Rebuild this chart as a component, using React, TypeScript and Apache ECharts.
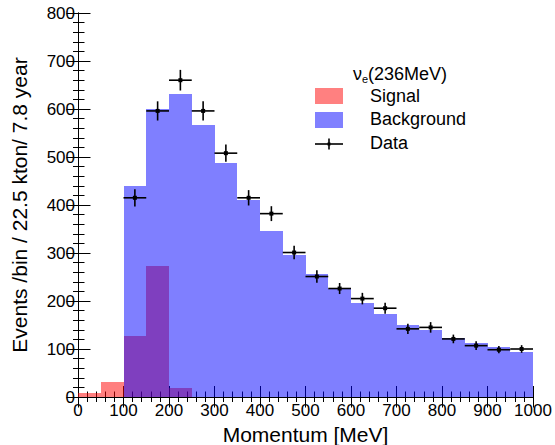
import React, { useEffect, useRef } from "react";
import * as echarts from "echarts";

// Histogram bin lower edges (MeV), bin width 50
const binLow = [0, 50, 100, 150, 200, 250, 300, 350, 400, 450, 500, 550, 600, 650, 700, 750, 800, 850, 900, 950];
const binWidth = 50;
const signal = [8, 31, 127, 273, 18, 0, 0, 0, 0, 0, 0, 0, 0, 0, 0, 0, 0, 0, 0, 0];
const background = [0, 0, 440, 601, 631, 567, 487, 410, 346, 296, 256, 226, 196, 173, 151, 140, 122, 112, 103.5, 94];

// Data points
const dataX = [125, 175, 225, 275, 325, 375, 425, 475, 525, 575, 625, 675, 725, 775, 825, 875, 925, 975];
const dataY = [415, 596, 660, 596, 508, 415, 382, 301, 251, 226, 205, 185, 142, 145, 121, 107, 98.5, 100];
const dataErr = [18, 20, 21.5, 20, 18, 16, 15.5, 14, 13, 11.5, 12, 11.5, 10.5, 11, 9, 9, 7.5, 8];

const xTicks = [0, 100, 200, 300, 400, 500, 600, 700, 800, 900, 1000];
const yTicks = [0, 100, 200, 300, 400, 500, 600, 700, 800];

const FONT = "'Liberation Sans', Arial, Helvetica, sans-serif";

export default function App() {
  const ref = useRef<HTMLDivElement>(null);
  useEffect(() => {
    if (!ref.current) return;
    const chart = echarts.init(ref.current, undefined, { renderer: "svg" });

    const histData = (vals: number[]) =>
      binLow.map((x, i) => [x, x + binWidth, vals[i]]).filter((d) => d[2] > 0);

    const histSeries = (name: string, vals: number[], color: string, z: number) => ({
      type: "custom",
      name,
      z,
      data: histData(vals),
      encode: { x: [0, 1], y: 2 },
      renderItem: (params: any, api: any) => {
        const x0 = api.value(0);
        const x1 = api.value(1);
        const y = api.value(2);
        const p0 = api.coord([x0, y]);
        const p1 = api.coord([x1, 0]);
        const L = Math.round(p0[0]);
        const R = Math.round(p1[0]);
        const T = Math.round(p0[1]);
        const B = Math.round(p1[1]);
        return {
          type: "rect",
          shape: { x: L, y: T, width: R - L, height: B - T },
          style: { fill: color },
        };
      },
    });

    const pointData = dataX.map((x, i) => [x, dataY[i], dataErr[i], binWidth / 2]);

    const xMin = xTicks[0];
    const xMax = xTicks[xTicks.length - 1];
    const xInt = xTicks[1] - xTicks[0];
    const yMin = yTicks[0];
    const yMax = yTicks[yTicks.length - 1];
    const yInt = yTicks[1] - yTicks[0];

    const axisCommon = {
      axisLine: { show: true, lineStyle: { color: "#000", width: 1 } },
      splitLine: { show: false },
    };

    chart.setOption({
      animation: false,
      backgroundColor: "#fff",
      grid: { left: 78, right: 22, top: 13, bottom: 48, containLabel: false, outerBoundsMode: "none" },
      xAxis: [
        {
          ...axisCommon,
          type: "value",
          position: "bottom",
          min: xMin,
          max: xMax,
          interval: xInt,
          axisTick: { show: true, inside: true, length: 11, lineStyle: { color: "#000" } },
          minorTick: { show: true, splitNumber: 5, length: 5.5, lineStyle: { color: "#000" } },
          axisLabel: { color: "#000", fontSize: 17, fontFamily: FONT, margin: 5, formatter: (v: number) => String(v) },
          name: "Momentum [MeV]",
          nameLocation: "middle",
          nameGap: 23,
          nameTextStyle: { color: "#000", fontSize: 21, fontFamily: FONT },
        },
        {
          ...axisCommon,
          type: "value",
          position: "top",
          min: xMin,
          max: xMax,
          interval: xInt,
          axisTick: { show: true, inside: true, length: 10.5, lineStyle: { color: "#000" } },
          minorTick: { show: true, splitNumber: 5, length: 5, lineStyle: { color: "#000" } },
          axisLabel: { show: false },
        },
      ],
      yAxis: [
        {
          ...axisCommon,
          type: "value",
          position: "left",
          min: yMin,
          max: yMax,
          interval: yInt,
          axisTick: { show: true, inside: true, length: 12.5, lineStyle: { color: "#000" } },
          minorTick: { show: true, splitNumber: 5, length: 6.5, lineStyle: { color: "#000" } },
          axisLabel: { color: "#000", fontSize: 17, fontFamily: FONT, margin: 3, formatter: (v: number) => String(v) },
          name: "Events /bin / 22.5 kton/ 7.8 year",
          nameLocation: "middle",
          nameGap: 48,
          nameTextStyle: { color: "#000", fontSize: 21, fontFamily: FONT },
        },
        {
          ...axisCommon,
          type: "value",
          position: "right",
          min: yMin,
          max: yMax,
          interval: yInt,
          axisTick: { show: true, inside: true, length: 11.5, lineStyle: { color: "#000" } },
          minorTick: { show: true, splitNumber: 5, length: 5, lineStyle: { color: "#000" } },
          axisLabel: { show: false },
        },
      ],
      series: [
        histSeries("Signal", signal, "rgba(255,0,0,0.5)", 2),
        histSeries("Background", background, "rgba(0,0,255,0.5)", 3),
        {
          type: "custom",
          name: "Data",
          z: 4,
          data: pointData,
          encode: { x: 0, y: 1 },
          renderItem: (params: any, api: any) => {
            const x = api.value(0);
            const y = api.value(1);
            const e = api.value(2);
            const hw = api.value(3);
            const c = api.coord([x, y]);
            const l = api.coord([x - hw, y]);
            const r = api.coord([x + hw, y]);
            const t = api.coord([x, y + e]);
            const b = api.coord([x, y - e]);
            const st = { stroke: "#000", lineWidth: 1.6 };
            return {
              type: "group",
              children: [
                { type: "line", shape: { x1: l[0], y1: c[1], x2: r[0], y2: c[1] }, style: st },
                { type: "line", shape: { x1: c[0], y1: t[1], x2: c[0], y2: b[1] }, style: st },
                { type: "rect", shape: { x: c[0] - 2, y: c[1] - 2, width: 4, height: 4 }, style: { fill: "#000" } },
              ],
            };
          },
        },
      ],
      graphic: [
        { type: "text", left: 353, top: 65, z: 10, style: { text: "ν", fontSize: 18, fontFamily: FONT, fill: "#000" } },
        { type: "text", left: 362, top: 73, z: 10, style: { text: "e", fontSize: 11, fontFamily: FONT, fill: "#000" } },
        { type: "text", left: 368, top: 65, z: 10, style: { text: "(236MeV)", fontSize: 18, fontFamily: FONT, fill: "#000" } },
        { type: "rect", left: 315, top: 88, z: 10, shape: { width: 28, height: 16 }, style: { fill: "#ff8080" } },
        { type: "rect", left: 315, top: 112, z: 10, shape: { width: 28, height: 16 }, style: { fill: "#8080ff" } },
        { type: "line", z: 10, shape: { x1: 315, y1: 144, x2: 343, y2: 144 }, style: { stroke: "#000", lineWidth: 1.6 } },
        { type: "line", z: 10, shape: { x1: 329, y1: 138.5, x2: 329, y2: 149.5 }, style: { stroke: "#000", lineWidth: 1.6 } },
        { type: "rect", z: 10, shape: { x: 327.5, y: 142.5, width: 3, height: 3 }, style: { fill: "#000" } },
        { type: "text", left: 370, top: 87, z: 10, style: { text: "Signal", fontSize: 18, fontFamily: FONT, fill: "#000" } },
        { type: "text", left: 370, top: 110, z: 10, style: { text: "Background", fontSize: 18, fontFamily: FONT, fill: "#000" } },
        { type: "text", left: 370, top: 134, z: 10, style: { text: "Data", fontSize: 18, fontFamily: FONT, fill: "#000" } },
      ],
    });
    return () => chart.dispose();
  }, []);
  return <div ref={ref} style={{ position: "fixed", left: 0, top: 0, width: 555, height: 445 }} />;
}
